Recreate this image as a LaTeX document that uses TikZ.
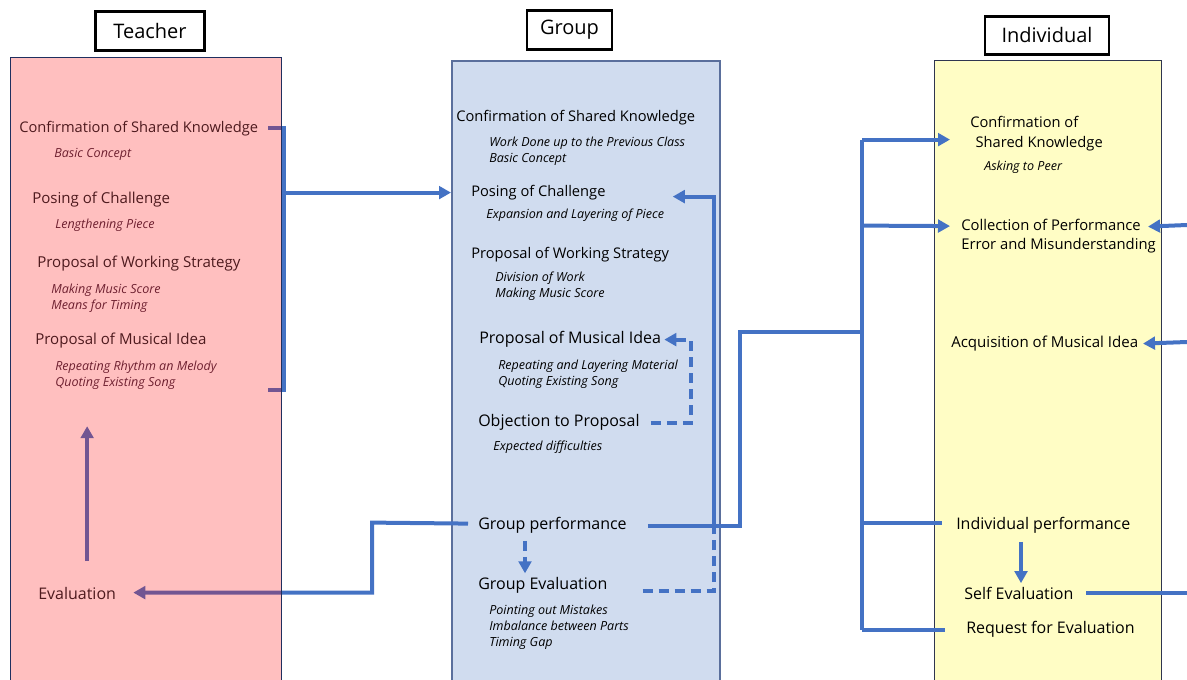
\documentclass[tikz,border=0pt]{standalone}
\usepackage{fontspec}
\setmainfont{Open Sans}
\usetikzlibrary{arrows.meta,positioning,calc}

\definecolor{lineBlue}{HTML}{4472C4}
\definecolor{grpFill}{HTML}{D0DCEF}
\definecolor{indFill}{HTML}{FFFDC5}
\definecolor{teachText}{HTML}{4E1A1E}
\definecolor{teachSub}{HTML}{6E2030}

\pgfdeclarelayer{base}
\pgfdeclarelayer{lines}
\pgfdeclarelayer{tint}
\pgfsetlayers{base,lines,tint,main}

\begin{document}
\begin{tikzpicture}[x=0.75pt, y=-0.75pt,
		      every node/.style={inner sep=0pt, anchor=west, align=left, yshift=-1.2pt},
		      panel/.style={anchor=north west, minimum height=470pt, yshift=1.2pt},
		      headBox/.style={draw=black, line width=2.2pt, fill=white, anchor=center, minimum height=29pt, yshift=1.2pt, font=\fontsize{15}{18}\selectfont},
		      stepText/.style={font=\fontsize{11}{13}\selectfont},
		      teachStep/.style={font=\fontsize{11.3}{13}\selectfont},
		      bigText/.style={font=\fontsize{12}{14}\selectfont},
		      subText/.style={font=\fontsize{9.4}{12}\selectfont\itshape},
		      link/.style={draw=lineBlue, line width=3pt},
		      dashLink/.style={link, dash pattern=on 7.5pt off 4.5pt},
		      >={Triangle[length=9pt, width=9.5pt]}
	      ]
	      \useasboundingbox (0,0) rectangle (1187,680);

	      % panels
	      \begin{pgfonlayer}{base}
		      \node[panel, minimum width=201pt, fill=grpFill, draw={rgb,255:red,90;green,111;blue,156}, line width=1.2pt] (grp) at (451,60) {};
		      \node[panel, minimum width=170.25pt, fill=indFill, draw={rgb,255:red,47;green,53;blue,80}, line width=0.8pt] (ind) at (934,60) {};
	      \end{pgfonlayer}
	      \begin{pgfonlayer}{tint}
		      \node[panel, minimum width=203.25pt, fill=red, fill opacity=0.25, draw={rgb,255:red,31;green,47;blue,95}, line width=0.8pt] (tch) at (10,57) {};
	      \end{pgfonlayer}

	      % headers
	      \node[headBox, minimum width=81.75pt] (TH) at (150,31) {Teacher};
	      \node[headBox, minimum width=63.75pt] (GH) at (569.5,30) {Group};
	      \node[headBox, minimum width=93pt] (IH) at (1047,35.5) {Individual};

	      % Teacher column
	      \begin{scope}[every node/.append style={text=teachText}]
		      \node[stepText] (T1) at (19,127) {Confirmation of Shared Knowledge};
		      \node[subText, text=teachSub] (T1a) at (54,153) {Basic Concept};
		      \node[teachStep] (T2) at (32,198) {Posing of Challenge};
		      \node[subText, text=teachSub] (T2a) at (55,224) {Lengthening Piece};
		      \node[teachStep] (T3) at (37,262) {Proposal of Working Strategy};
		      \node[subText, text=teachSub] (T3a) at (51,297) {Making Music Score\\Means for Timing};
		      \node[teachStep] (T4) at (35,339) {Proposal of Musical Idea};
		      \node[subText, text=teachSub] (T4a) at (55,373.5) {Repeating Rhythm an Melody\\Quoting Existing Song};
		      \node[bigText] (T5) at (38,592) {Evaluation};
	      \end{scope}

	      % Group column
	      \node[stepText] (G1) at (456,116) {Confirmation of Shared Knowledge};
	      \node[subText] (G1a) at (489,150) {Work Done up to the Previous Class\\Basic Concept};
	      \node[stepText] (G2) at (471,191) {Posing of Challenge};
	      \node[subText] (G2a) at (486,214) {Expansion and Layering of Piece};
	      \node[stepText] (G3) at (471,253) {Proposal of Working Strategy};
	      \node[subText] (G3a) at (495,285) {Division of Work\\Making Music Score};
	      \node[bigText] (G4) at (479,338) {Proposal of Musical Idea};
	      \node[subText] (G4a) at (498,373) {Repeating and Layering Material\\Quoting Existing Song};
	      \node[bigText] (G5) at (478,421) {Objection to Proposal};
	      \node[subText] (G5a) at (493,446) {Expected difficulties};
	      \node[bigText] (G6) at (478,524) {Group performance};
	      \node[bigText] (G7) at (478,584) {Group Evaluation};
	      \node[subText] (G7a) at (489,626) {Pointing out Mistakes\\Imbalance between Parts\\Timing Gap};

	      % Individual column
	      \node[stepText, font=\fontsize{11}{15}\selectfont] (I1) at (970,132) {Confirmation of\\\hspace*{4pt}Shared Knowledge};
	      \node[subText] (I1a) at (984,166) {Asking to Peer};
	      \node[stepText, font=\fontsize{11.1}{14.25}\selectfont] (I2) at (961,234.5) {Collection of Performance\\Error and Misunderstanding};
	      \node[stepText, font=\fontsize{11.3}{13}\selectfont] (I3) at (951,342) {Acquisition of Musical Idea};
	      \node[bigText] (I4) at (956,524) {Individual performance};
	      \node[bigText] (I5) at (964,592) {Self Evaluation};
	      \node[bigText] (I6) at (966,628) {Request for Evaluation};

	      % turning points
	      \coordinate (brTop) at (284,126);
	      \coordinate (brMid) at (284,191);
	      \coordinate (brBot) at (284,388);
	      \coordinate (backL) at (372,521);
	      \coordinate (upR) at (740,330);
	      \coordinate (spTop) at (862,138);
	      \coordinate (spBot) at (862,628);
	      \coordinate (loopR) at (714,589);
	      \coordinate (loopUp) at (714,195);
	      \coordinate (objR) at (691,421);
	      \coordinate (collIn) at (1148,225);
	      \coordinate (acqIn) at (1143,342);
	      \coordinate (rightEdge) at (1187,0);
	      \coordinate (selfOut) at (1086,591);

	      \begin{pgfonlayer}{lines}
		      % teacher bracket
		      \draw[link] ($(brTop)+(-16,0)$) -- (brTop) -- (brBot) -- ($(brBot)+(-16,0)$);
		      \draw[link, ->] (brMid) -- (brMid -| grp.west);
		      \draw[link, ->] ($(T5.north)+(10,-26)$) -- ($(T5.north)+(10,-161)$);
		      % group performance to teacher
		      \draw[link, ->] ($(G6.west)+(-10,-2)$) -- (backL) |- ($(T5.east)+(17,-1)$);
		      % group performance to individual
		      \draw[link] ($(G6.east)+(21,0)$) -| (upR) -- (upR -| spTop);
		      \draw[link] (spTop) -- (spBot);
		      \draw[link, ->] (spTop) -- ($(I1.west)+(-20,6)$);
		      \draw[link, ->] (spTop |- collIn) ++(0,-1) -- ($(I2.west)+(-11,-10)$);
		      \draw[link] (spTop |- I4.west) ++(0,-3) -- ($(I4.west)+(-14,-3)$);
		      \draw[link] (spBot) -- ($(I6.west)+(-21,0)$);
		      % loops inside group
		      \draw[dashLink] ($(G7.east)+(35,5)$) -- (loopR) -- (loopR |- G6);
		      \draw[link, ->] (loopR |- G6) -- (loopUp) -- ($(G2.east)+(67,4)$);
		      \draw[dashLink, ->] ($(G5.east)+(11,0)$) -- (objR) -- (objR |- G4) -- ($(G4.east)+(3,0)$);
		      \draw[dashLink, ->] ($(G6.south west)+(47,7)$) -- ($(G7.north west)+(47,-4)$);
		      % individual
		      \draw[link, ->] ($(I4.south west)+(65,8)$) -- ($(I5.north west)+(57,-4)$);
		      \draw[link, ->] (1187,225) -- (collIn);
		      \draw[link, ->] (1187,342) -- (acqIn);
		      \draw[link] (selfOut) -- (selfOut -| rightEdge);
	      \end{pgfonlayer}
\end{tikzpicture}
\end{document}
